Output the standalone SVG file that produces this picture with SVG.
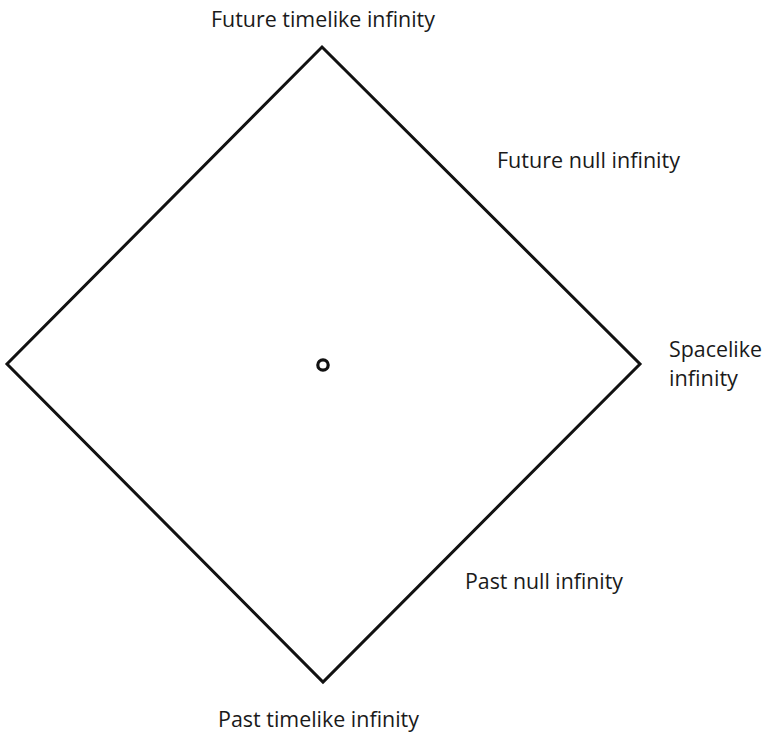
<svg xmlns="http://www.w3.org/2000/svg" width="767" height="734" viewBox="0 0 767 734">
<style>
.lbl{font-family:"Open Sans","Noto Sans",sans-serif;font-size:21.5px;fill:#1a1a1a}
.edge{fill:none;stroke:#111;stroke-width:3;stroke-linejoin:miter}
</style>
<rect width="767" height="734" fill="#fff"/>
<g id="connectors">
<path class="edge" d="M322 47 L640 364 L323 682 L7 364 Z"/>
</g>
<g id="origin"><circle cx="323" cy="365" r="5.2" fill="none" stroke="#111" stroke-width="3.2"/></g>
<g id="future-timelike"><text class="lbl" x="211" y="27" textLength="224" lengthAdjust="spacingAndGlyphs">Future timelike infinity</text></g>
<g id="future-null"><text class="lbl" x="497" y="168" textLength="183" lengthAdjust="spacingAndGlyphs">Future null infinity</text></g>
<g id="spacelike"><text class="lbl" x="669" y="357" textLength="93" lengthAdjust="spacingAndGlyphs">Spacelike</text><text class="lbl" x="669" y="386" textLength="69" lengthAdjust="spacingAndGlyphs">infinity</text></g>
<g id="past-null"><text class="lbl" x="465" y="589" textLength="158" lengthAdjust="spacingAndGlyphs">Past null infinity</text></g>
<g id="past-timelike"><text class="lbl" x="218" y="727" textLength="201" lengthAdjust="spacingAndGlyphs">Past timelike infinity</text></g>
</svg>
